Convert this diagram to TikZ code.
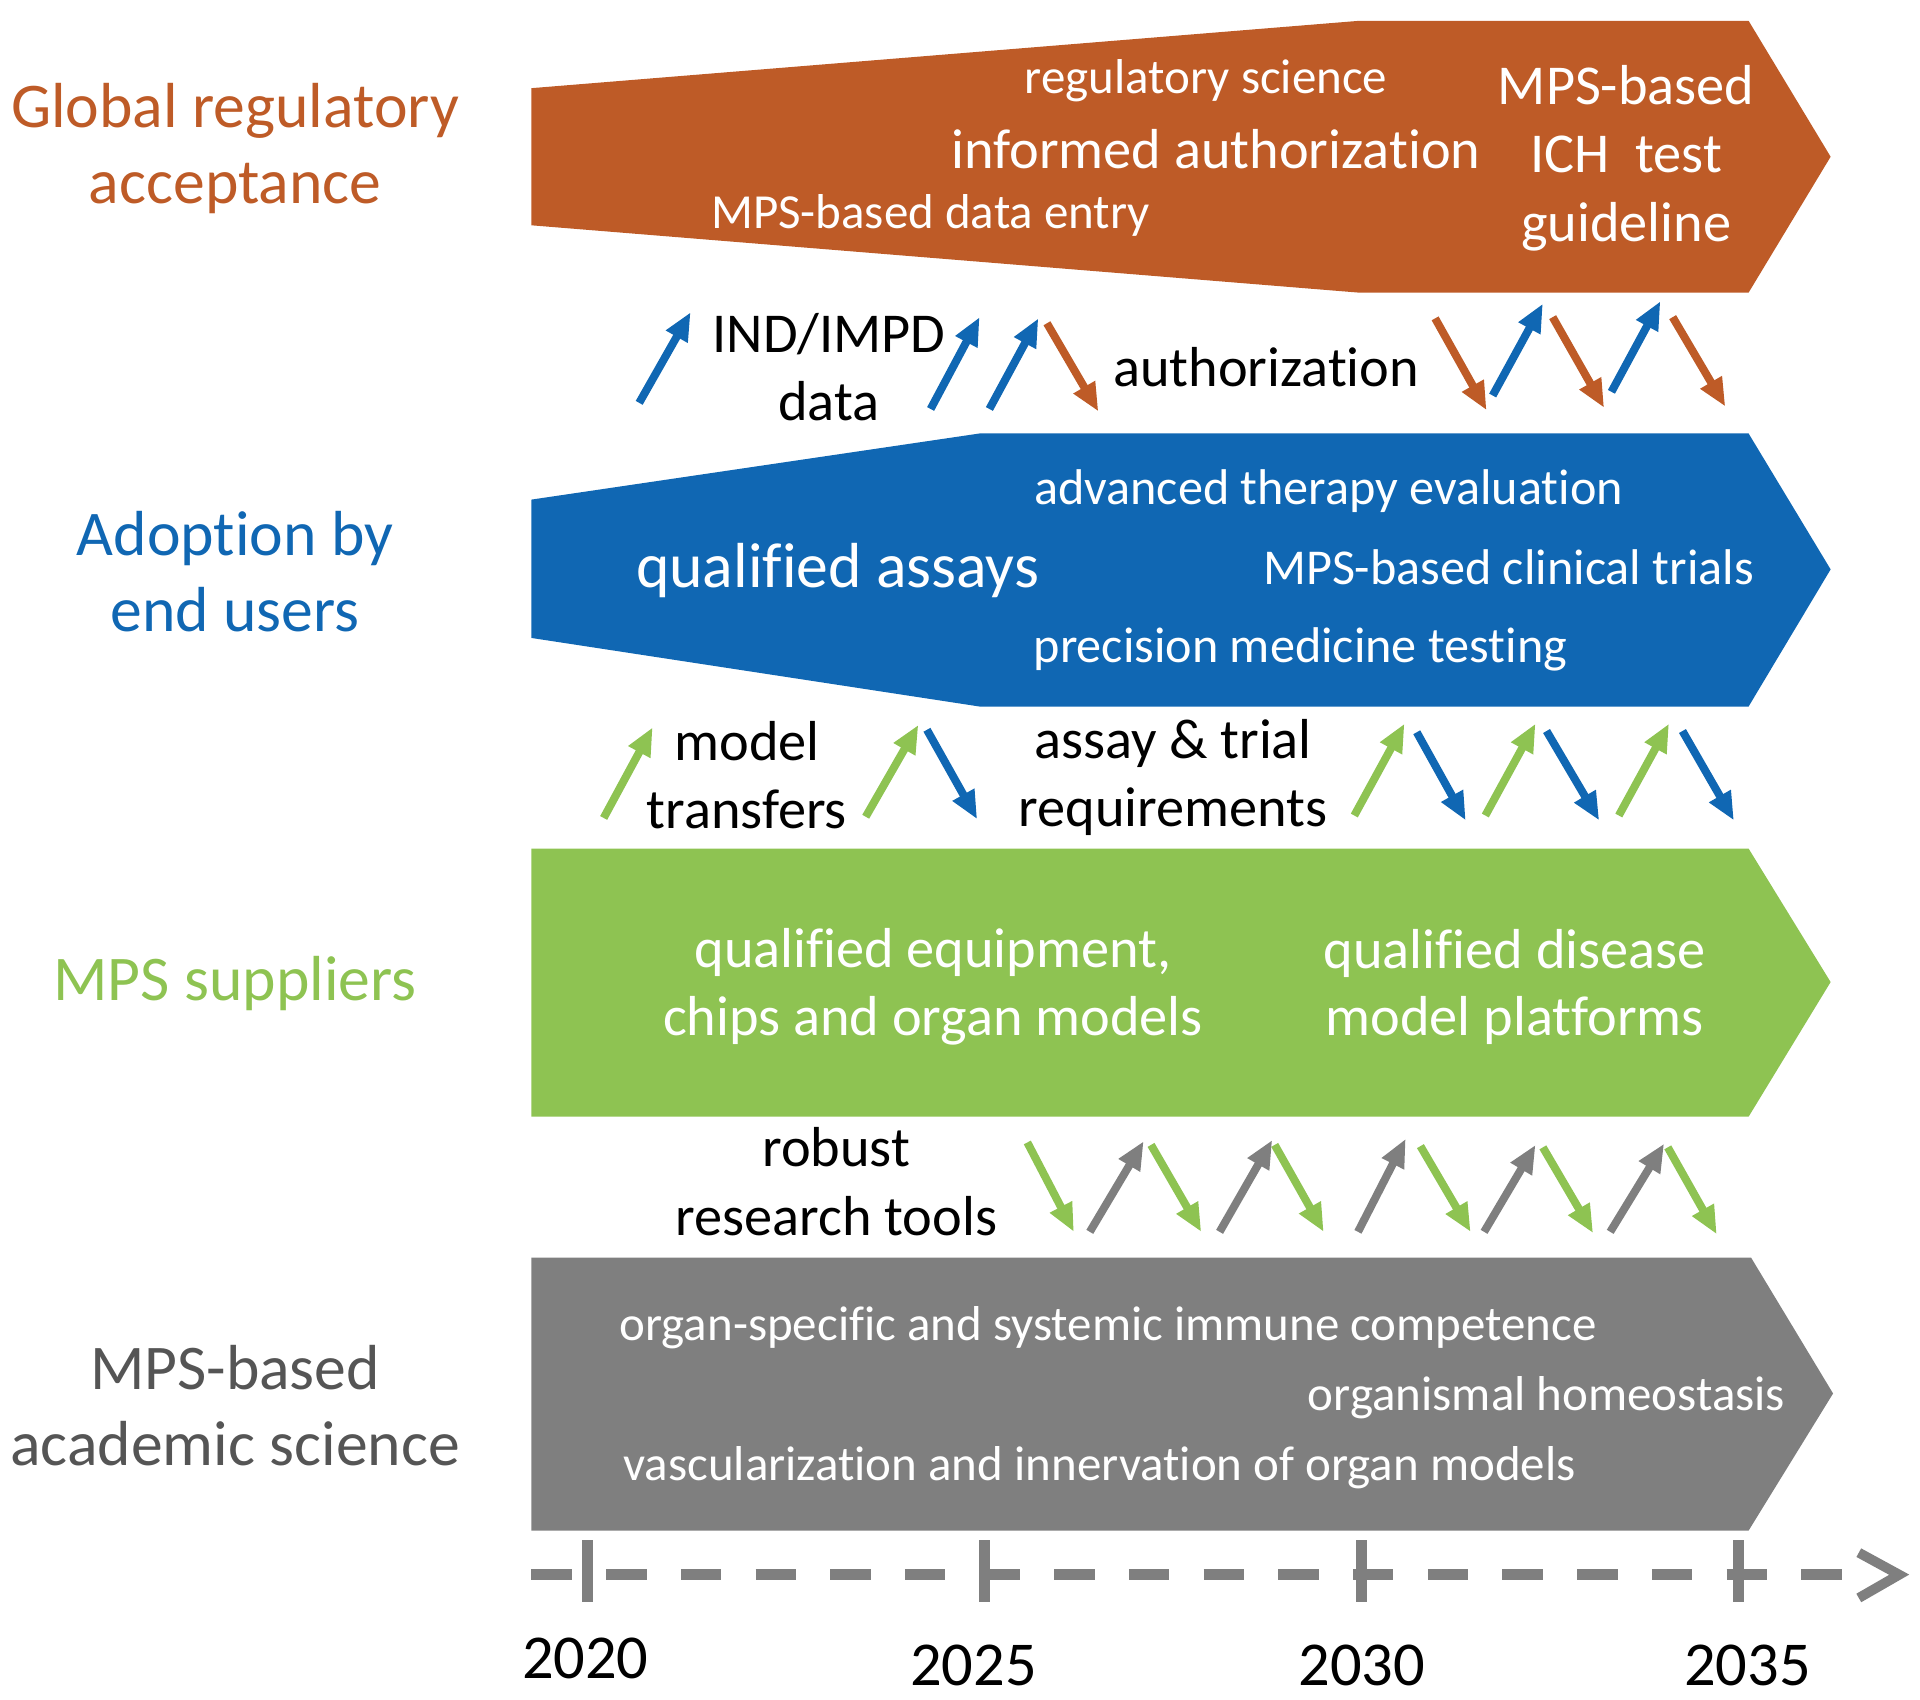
\documentclass[tikz,border=0pt]{standalone}
\usepackage{fontspec}
\setmainfont{Carlito}[Ligatures=NoCommon]
\usepackage{xcolor}
\usepackage{tikz}
\usetikzlibrary{arrows.meta}
\definecolor{orangex}{HTML}{BE5B27}
\definecolor{bluex}{HTML}{1067B3}
\definecolor{greenx}{HTML}{8EC352}
\definecolor{grayx}{HTML}{7F7F7F}
\definecolor{darkgrayx}{HTML}{555555}
\tikzset{
  ar/.style={-{Triangle[length=23pt,width=19pt]},line width=6.5pt},
  band/.style={draw=none},
  wsmall/.style={white,inner sep=0pt,font=\fontsize{40}{48}\selectfont,text height=30pt,text depth=6pt},
  wbig/.style={white,inner sep=0pt,align=center,font=\fontsize{46}{56}\selectfont},
  blk/.style={black,inner sep=0pt,align=center,font=\fontsize{46}{56}\selectfont},
  side/.style={inner sep=0pt,align=center,font=\fontsize{52}{62}\selectfont}
}
\begin{document}
\begin{tikzpicture}[x=1pt,y=-1pt]
\useasboundingbox (0,0) rectangle (1568,1388);
% bands
\fill[orangex,band] (434,72)--(1110,17)--(1428,17)--(1495,128)--(1428,239)--(1110,239)--(434,184)--cycle;
\fill[bluex,band] (434,408)--(800,354)--(1428,354)--(1495,465)--(1428,577)--(800,577)--(434,521)--cycle;
\fill[greenx,band] (434,693)--(1428,693)--(1495,802)--(1428,912)--(434,912)--cycle;
\fill[grayx,band] (434,1027)--(1430,1027)--(1497,1138)--(1428,1250)--(434,1250)--cycle;
% row labels
\node[side,orangex] (glob) at (192,121) {Global regulatory\\acceptance};
\node[side,bluex] (adop) at (192,467) {Adoption by\\end users};
\node[side,greenx] (supp) at (192,803) {MPS suppliers};
\node[side,darkgrayx] (acad) at (192,1148) {MPS-based\\academic science};
% band texts
\node[wsmall] (regsci) at (985,64) {regulatory science};
\node[wbig] (infauth) at (993,122) {informed authorization};
\node[wsmall] (dataentry) at (760,175) {MPS-based data entry};
\node[wbig] (ich) at (1328,129) {MPS-based\\ICH\ \ test\\guideline};
\node[wsmall,font=\fontsize{41}{48}\selectfont] (advther) at (1085,400) {advanced therapy evaluation};
\node[wbig,font=\fontsize{52}{60}\selectfont] (qualassay) at (684,466) {qualified assays};
\node[wsmall,font=\fontsize{41}{48}\selectfont] (clin) at (1232,465) {MPS-based clinical trials};
\node[wsmall,font=\fontsize{41}{48}\selectfont] (prec) at (1062,529) {precision medicine testing};
\node[wbig,font=\fontsize{46}{55}\selectfont] (equip) at (762,806) {qualified equipment,\\chips and organ models};
\node[wbig,font=\fontsize{46}{55}\selectfont] (disease) at (1237,806) {qualified disease\\model platforms};
\node[wsmall] (immune) at (905,1083) {organ-specific and systemic immune competence};
\node[wsmall] (homeo) at (1263,1140) {organismal homeostasis};
\node[wsmall] (vasc) at (898,1197) {vascularization and innervation of organ models};
% flow labels
\node[blk] (ind) at (677,300) {IND/IMPD\\data};
\node[blk] (auth) at (1034,300) {authorization};
\node[blk] (model) at (610,633) {model\\transfers};
\node[blk,font=\fontsize{46}{55}\selectfont] (assay) at (958,635) {assay \& trial\\requirements};
\node[blk] (robust) at (683,965) {robust\\research tools};
% exchange arrows
\foreach \xa/\ya/\xb/\yb/\cl [count=\i] in {
  522/329/564/255/bluex, 760/334/800/259/bluex, 808/334/848/260/bluex,
  855/264/897/336/orangex, 1172/260/1214/335/orangex, 1219/323/1260/248/bluex,
  1268/259/1310/333/orangex, 1316/320/1356/246/bluex, 1366/259/1409/332/orangex,
  493/668/533/594/greenx, 707/667/750/592/greenx, 757/596/798/669/bluex,
  1106/666/1147/591/greenx, 1157/598/1197/670/bluex, 1213/666/1254/591/greenx,
  1263/597/1306/670/bluex, 1322/666/1363/591/greenx, 1374/597/1416/670/bluex,
  839/933/877/1006/greenx, 890/1006/934/932/grayx, 940/935/981/1006/greenx,
  996/1006/1039/931/grayx, 1041/935/1081/1006/greenx, 1109/1006/1148/930/grayx,
  1160/936/1201/1006/greenx, 1212/1006/1254/935/grayx, 1260/937/1301/1007/greenx,
  1315/1006/1359/934/grayx, 1362/937/1402/1008/greenx}{
  \coordinate (t\i) at (\xa,\ya);
  \coordinate (h\i) at (\xb,\yb);
  \draw[ar,\cl] (t\i)--(h\i);
}
% timeline
\coordinate (tls) at (434,1286);
\coordinate (tle) at (1512,1286);
\draw[grayx,line width=9pt,dash pattern=on 33pt off 28pt] (tls)--(tle);
\coordinate (cha) at (1518,1268);
\coordinate (chb) at (1551,1286);
\coordinate (chc) at (1518,1305);
\draw[grayx,line width=8pt] (cha)--(chb)--(chc);
\foreach \x/\lx/\ly/\yr in {480/478/1354/2020,804/795/1360/2025,1112/1112/1360/2030,1420/1427/1360/2035}{
  \draw[grayx,line width=9pt] (\x,1258)--(\x,1308);
  \node[black,inner sep=0pt,font=\fontsize{51}{60}\selectfont] (y\yr) at (\lx,\ly) {\yr};
}
\end{tikzpicture}
\end{document}
